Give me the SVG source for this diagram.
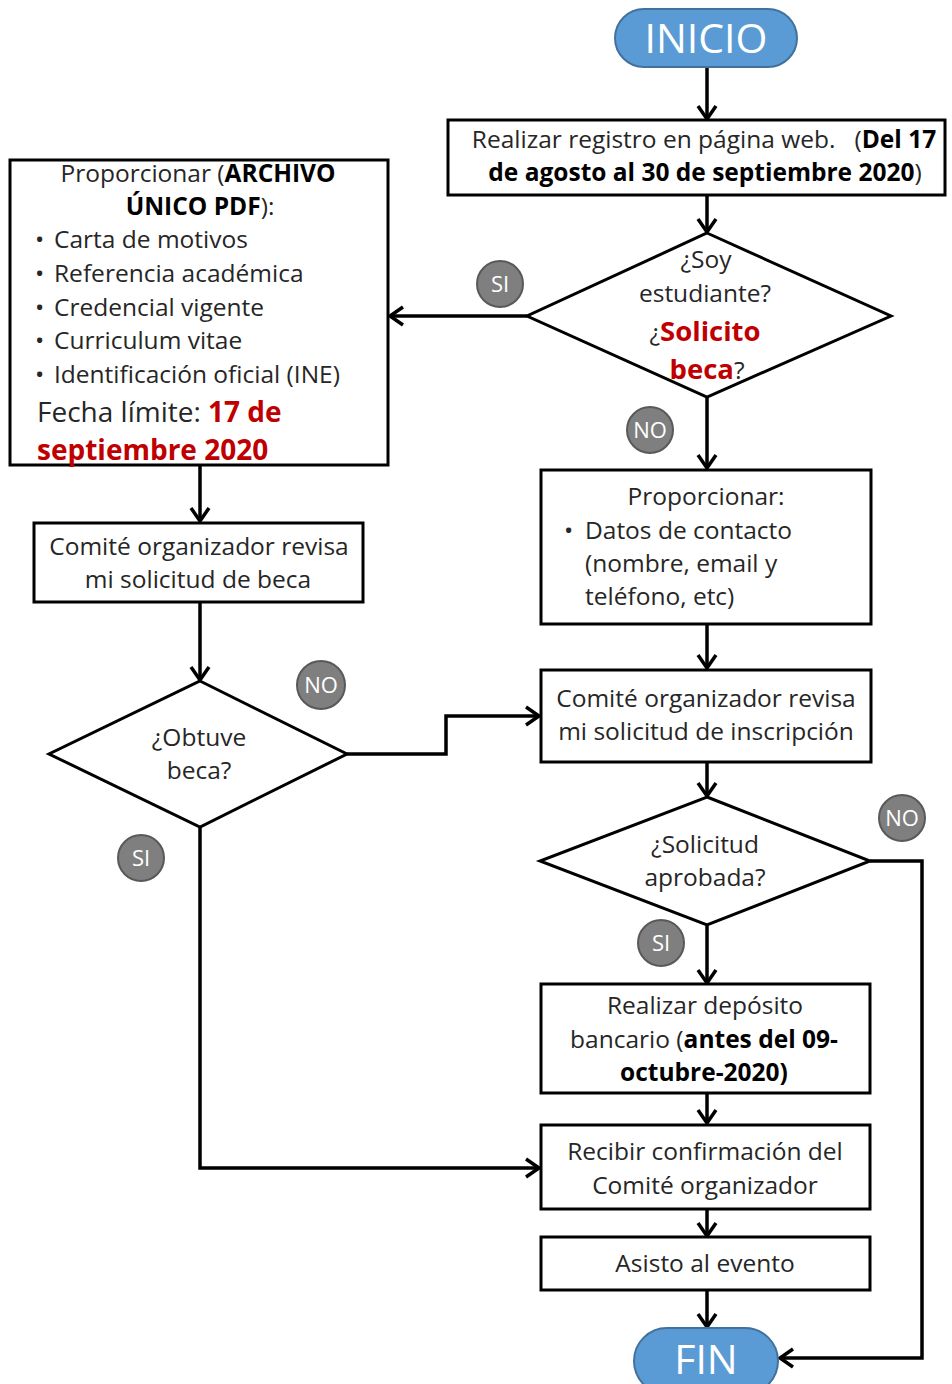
<svg xmlns="http://www.w3.org/2000/svg" width="952" height="1384" viewBox="0 0 952 1384">
<style>
.box{fill:#fff;stroke:#000;stroke-width:3}
.pill{fill:#5B9BD5;stroke:#41719C;stroke-width:2}
.pt{font-family:"Open Sans","Liberation Sans",sans-serif;font-size:41px;fill:#fff;text-anchor:middle}
.t{font-family:"Open Sans","Liberation Sans",sans-serif;font-size:24.5px;fill:#262626}
.c{text-anchor:middle}
.b{font-weight:bold;fill:#000}
.r{font-weight:bold;fill:#C00000}
.big{font-size:27.5px}
.lbl circle{fill:#7F7F7F;stroke:#595959;stroke-width:2}
.lbl text{font-family:"Open Sans","Liberation Sans",sans-serif;font-size:22px;fill:#fff;text-anchor:middle}
.con{fill:none;stroke:#000;stroke-width:3.5}
</style>
<defs>
<marker id="arr" markerUnits="userSpaceOnUse" markerWidth="18" markerHeight="22" viewBox="0 0 18 22" refX="16" refY="11" orient="auto">
<path d="M3,2 L16,11 L3,20" fill="none" stroke="#000" stroke-width="3.5"/>
</marker>
</defs>
<rect width="952" height="1384" fill="#fff"/>

<g id="connectors">
<line class="con" x1="707" y1="68" x2="707" y2="119" marker-end="url(#arr)"/>
<line class="con" x1="707" y1="195" x2="707" y2="232" marker-end="url(#arr)"/>
<line class="con" x1="527" y1="316" x2="390" y2="316" marker-end="url(#arr)"/>
<line class="con" x1="707" y1="397" x2="707" y2="468" marker-end="url(#arr)"/>
<line class="con" x1="707" y1="624" x2="707" y2="668" marker-end="url(#arr)"/>
<line class="con" x1="707" y1="762" x2="707" y2="796" marker-end="url(#arr)"/>
<line class="con" x1="707" y1="926" x2="707" y2="983" marker-end="url(#arr)"/>
<line class="con" x1="707" y1="1093" x2="707" y2="1123" marker-end="url(#arr)"/>
<line class="con" x1="707" y1="1209" x2="707" y2="1236" marker-end="url(#arr)"/>
<line class="con" x1="707" y1="1290" x2="707" y2="1327" marker-end="url(#arr)"/>
<polyline class="con" points="870,861 922,861 922,1358 780,1358" marker-end="url(#arr)"/>
<line class="con" x1="200" y1="465" x2="200" y2="521" marker-end="url(#arr)"/>
<line class="con" x1="200" y1="602" x2="200" y2="680" marker-end="url(#arr)"/>
<polyline class="con" points="347,754 446,754 446,716 539,716" marker-end="url(#arr)"/>
<polyline class="con" points="200,827 200,1168 539,1168" marker-end="url(#arr)"/>
</g>

<g id="inicio">
<rect class="pill" x="615" y="9" width="182" height="58" rx="29"/>
<text class="pt" x="706" y="53">INICIO</text>
</g>

<g id="registro">
<rect class="box" x="448" y="120" width="497" height="75"/>
<text class="t c" x="704" y="148">Realizar registro en página web. &#160; (<tspan class="b">Del 17</tspan></text>
<text class="t c" x="705" y="181"><tspan class="b">de agosto al 30 de septiembre 2020</tspan>)</text>
</g>

<g id="decision-estudiante">
<polygon class="box" points="707,233 891,316 707,397 527,316"/>
<text class="t c" x="706" y="268">¿Soy</text>
<text class="t c" x="705" y="302">estudiante?</text>
<text class="t c" x="705" y="341">¿<tspan class="r big">Solicito</tspan></text>
<text class="t c" x="707" y="379"><tspan class="r big">beca</tspan>?</text>
</g>

<g id="documentos">
<rect class="box" x="10" y="160" width="378" height="305"/>
<text class="t c" x="198" y="182">Proporcionar (<tspan class="b">ARCHIVO</tspan></text>
<text class="t c" x="200" y="215"><tspan class="b">ÚNICO PDF</tspan>):</text>
<text class="t" x="35" y="248">•</text><text class="t" x="54" y="248">Carta de motivos</text>
<text class="t" x="35" y="282">•</text><text class="t" x="54" y="282">Referencia académica</text>
<text class="t" x="35" y="316">•</text><text class="t" x="54" y="316">Credencial vigente</text>
<text class="t" x="35" y="349">•</text><text class="t" x="54" y="349">Curriculum vitae</text>
<text class="t" x="35" y="383">•</text><text class="t" x="54" y="383">Identificación oficial (INE)</text>
<text class="t big" x="37" y="422" style="font-size:28px">Fecha límite: <tspan class="r">17 de</tspan></text>
<text class="t r" x="37" y="460" style="font-size:28px">septiembre 2020</text>
</g>

<g id="contacto">
<rect class="box" x="541" y="470" width="330" height="154"/>
<text class="t c" x="706" y="505">Proporcionar:</text>
<text class="t" x="564" y="539">•</text><text class="t" x="585" y="539">Datos de contacto</text>
<text class="t" x="585" y="572">(nombre, email y</text>
<text class="t" x="585" y="605">teléfono, etc)</text>
</g>

<g id="revisa-beca">
<rect class="box" x="34" y="523" width="329" height="79"/>
<text class="t c" x="199" y="555">Comité organizador revisa</text>
<text class="t c" x="198" y="588">mi solicitud de beca</text>
</g>

<g id="decision-beca">
<polygon class="box" points="200,681 347,754 200,827 49,754"/>
<text class="t c" x="199" y="746">¿Obtuve</text>
<text class="t c" x="199" y="779">beca?</text>
</g>

<g id="revisa-inscripcion">
<rect class="box" x="541" y="670" width="330" height="92"/>
<text class="t c" x="706" y="707">Comité organizador revisa</text>
<text class="t c" x="706" y="740">mi solicitud de inscripción</text>
</g>

<g id="decision-aprobada">
<polygon class="box" points="707,797 870,861 707,925 540,861"/>
<text class="t c" x="705" y="853">¿Solicitud</text>
<text class="t c" x="705" y="886">aprobada?</text>
</g>

<g id="deposito">
<rect class="box" x="541" y="984" width="329" height="109"/>
<text class="t c" x="705" y="1014">Realizar depósito</text>
<text class="t c" x="704" y="1048">bancario (<tspan class="b">antes del 09-</tspan></text>
<text class="t c b" x="704" y="1081">octubre-2020)</text>
</g>

<g id="confirmacion">
<rect class="box" x="541" y="1125" width="329" height="84"/>
<text class="t c" x="705" y="1160">Recibir confirmación del</text>
<text class="t c" x="705" y="1194">Comité organizador</text>
</g>

<g id="evento">
<rect class="box" x="541" y="1237" width="329" height="53"/>
<text class="t c" x="705" y="1272">Asisto al evento</text>
</g>

<g id="fin">
<rect class="pill" x="634" y="1328" width="144" height="66" rx="33"/>
<text class="pt" x="706" y="1374">FIN</text>
</g>

<g id="labels">
<g class="lbl"><circle cx="500" cy="284" r="23"/><text x="500" y="292">SI</text></g>
<g class="lbl"><circle cx="650" cy="430" r="23"/><text x="650" y="438">NO</text></g>
<g class="lbl"><circle cx="321" cy="685" r="24"/><text x="321" y="693">NO</text></g>
<g class="lbl"><circle cx="141" cy="858" r="23"/><text x="141" y="866">SI</text></g>
<g class="lbl"><circle cx="902" cy="818" r="23"/><text x="902" y="826">NO</text></g>
<g class="lbl"><circle cx="661" cy="943" r="23"/><text x="661" y="951">SI</text></g>
</g>
</svg>
